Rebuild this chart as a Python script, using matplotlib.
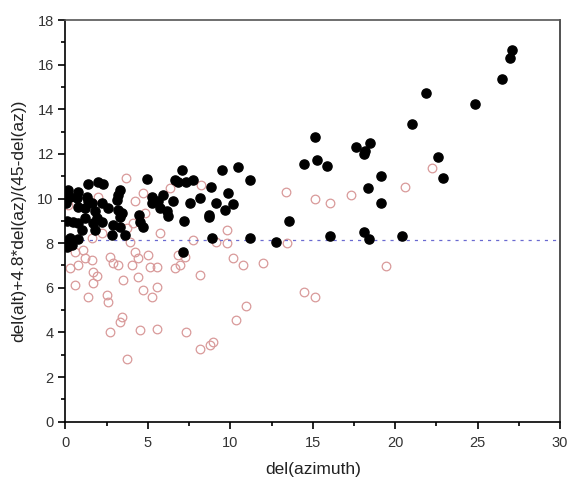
import matplotlib
matplotlib.use("Agg")
import matplotlib.pyplot as plt
from matplotlib.ticker import MultipleLocator

plt.rcParams["font.family"] = ["Liberation Sans", "DejaVu Sans"]

# filled points (black)
fill_x = [0.17, 0.78, 0.27, 0.68, 1.38, 1.99, 2.29, 1.28, 1.38, 1.59,
          0.78, 1.18, 2.19, 3.30, 3.20, 3.10, 2.59, 3.20, 3.40, 3.30,
          1.79, 1.89, 2.19, 1.69, 1.18, 0.47, 0.78, 0.98, 1.79, 2.90,
          3.30, 2.80, 3.60, 0.27, 0.78, 0.37, 4.47, 4.52, 4.72, 4.92,
          5.22, 5.22, 5.63, 5.73, 5.93, 6.13, 6.23, 6.53, 6.64, 6.84,
          7.08, 7.34, 7.55, 7.18, 7.75, 8.15, 8.70, 8.70, 8.80, 8.90,
          7.10, 9.16, 9.50, 9.67, 9.87, 10.17, 10.47, 11.18, 11.18, 12.76,
          13.53, 14.47, 15.16, 15.26, 15.87, 17.65, 18.15, 18.11, 18.45, 19.12,
          18.35, 19.12, 21.02, 21.89, 22.60, 22.90, 24.82, 26.47, 26.98, 27.10,
          16.03, 18.11, 18.41, 20.44, 0.05, 0.05, 0.10, 0.05, 0.10]
fill_y = [10.39, 10.31, 10.09, 10.02, 10.65, 10.72, 10.65, 10.09, 9.87, 9.79,
          9.64, 9.57, 9.82, 10.39, 10.17, 9.94, 9.57, 9.49, 9.35, 9.17,
          9.42, 9.12, 8.97, 8.90, 9.12, 8.97, 8.90, 8.60, 8.60, 8.82,
          8.74, 8.37, 8.37, 8.22, 8.18, 7.92, 9.27, 8.97, 8.72, 10.87,
          10.09, 9.79, 9.87, 9.57, 10.17, 9.45, 9.22, 9.87, 10.84, 10.76,
          11.26, 10.72, 9.82, 9.00, 10.84, 10.02, 9.25, 9.17, 10.54, 8.22,
          7.62, 9.82, 11.26, 9.49, 10.24, 9.76, 11.41, 10.84, 8.22, 8.04,
          9.01, 11.55, 12.78, 11.74, 11.48, 12.29, 12.11, 12.00, 12.48, 11.03,
          10.47, 9.82, 13.35, 14.73, 11.84, 10.94, 14.25, 15.35, 16.28, 16.67,
          8.30, 8.52, 8.19, 8.34, 10.30, 9.80, 9.00, 8.10, 7.85]

# open points (pink)
open_x = [15.16, 16.07, 17.35, 20.60, 22.21, 19.42, 14.45, 15.16, 13.36, 13.46,
          3.70, 4.21, 4.72, 6.33, 8.25, 1.99, 0.17, 4.11, 3.71, 3.91,
          4.82, 5.73, 7.75, 9.77, 9.16, 9.77, 2.19, 1.59, 0.58, 1.08,
          1.18, 0.27, 0.78, 1.59, 1.69, 1.89, 1.69, 0.58, 1.38, 2.70,
          2.90, 3.20, 3.50, 4.01, 4.21, 4.41, 4.41, 4.72, 5.02, 5.12,
          5.53, 5.53, 5.22, 2.50, 2.59, 3.41, 3.30, 6.64, 6.94, 6.84,
          7.24, 8.15, 10.17, 10.78, 11.99, 10.98, 10.37, 2.70, 4.52, 5.53,
          7.30, 3.71, 8.19, 8.76, 8.96]
open_y = [9.99, 9.82, 10.17, 10.54, 11.36, 6.98, 5.80, 5.58, 10.31, 8.00,
          10.91, 9.87, 10.24, 10.46, 10.61, 10.09, 9.72, 8.90, 8.67, 8.07,
          9.35, 8.45, 8.15, 8.60, 8.07, 8.00, 8.45, 8.22, 7.62, 7.70,
          7.33, 6.88, 7.03, 7.25, 6.73, 6.53, 6.23, 6.13, 5.60, 7.40,
          7.10, 7.03, 6.35, 7.03, 7.62, 7.33, 6.50, 5.91, 7.48, 6.95,
          6.95, 6.05, 5.60, 5.68, 5.38, 4.71, 4.48, 6.88, 7.03, 7.48,
          7.40, 6.58, 7.33, 7.03, 7.10, 5.19, 4.56, 4.01, 4.11, 4.14,
          4.01, 2.83, 3.27, 3.44, 3.59]

threshold = 8.15

fig = plt.figure(figsize=(5.67, 4.79), dpi=100)
ax = fig.add_axes([0.1155, 0.1196, 0.8722, 0.8386])

ax.plot(open_x, open_y, "o", mfc="none", mec="#d99a9a", mew=0.9, ms=6.2, zorder=2)
ax.axhline(threshold, color="#6a6ad0", ls=(0, (2.5, 4)), lw=0.9, zorder=3)
ax.plot(fill_x, fill_y, "o", color="black", ms=6.6, zorder=4)

ax.set_xlim(0, 30)
ax.set_ylim(0, 18)
ax.xaxis.set_major_locator(MultipleLocator(5))
ax.xaxis.set_minor_locator(MultipleLocator(2.5))
ax.yaxis.set_major_locator(MultipleLocator(2))
ax.yaxis.set_minor_locator(MultipleLocator(1))
ax.tick_params(which="both", direction="out", top=False, right=False,
               labelsize=10.5, labelcolor="#333333", width=1.2)
ax.tick_params(which="major", length=5)
ax.tick_params(axis="x", which="major", pad=5)
ax.tick_params(which="minor", length=3)
for s in ax.spines.values():
    s.set_linewidth(1.2)
ax.spines["top"].set_color("#555555")
ax.spines["right"].set_color("#333333")

ax.set_xlabel("del(azimuth)", fontsize=12.5, color="#222222", labelpad=9)
ax.set_ylabel("del(alt)+4.8*del(az)/(45-del(az))", fontsize=12.5,
              color="#222222", labelpad=8)

fig.savefig("out.png", dpi=100)
